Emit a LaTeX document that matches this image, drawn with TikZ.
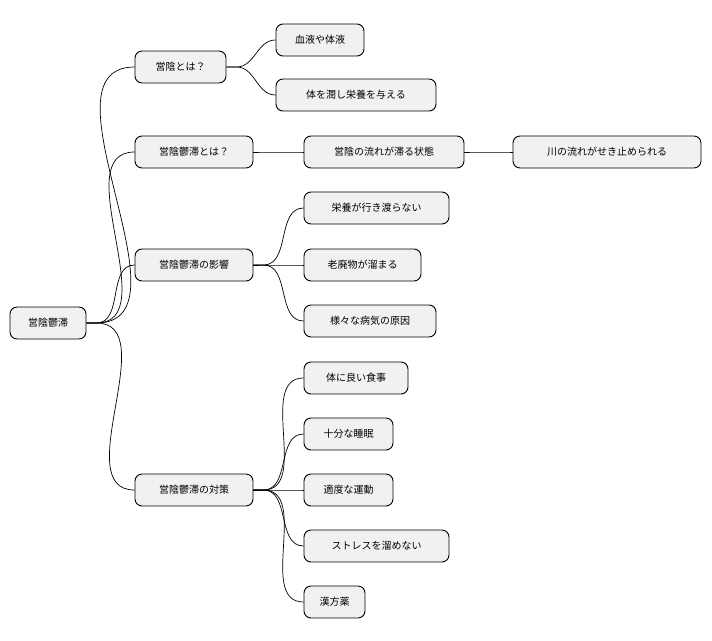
\documentclass[tikz,border=0pt]{standalone}
\usepackage{fontspec}
\setmainfont{Noto Sans CJK JP}
\begin{document}
\begin{tikzpicture}[x=1pt,y=-1pt,
  box/.style={draw=black,line width=0.9pt,fill={rgb,255:red,241;green,241;blue,241},rounded corners=7pt,minimum height=32pt,inner sep=0pt,font=\fontsize{10}{12}\selectfont},
  link/.style={line width=0.7pt}]
\useasboundingbox (0,0) rectangle (712,640);
\newcommand{\bx}[5]{\node[box,minimum width=#3pt-#2pt] (#1) at ({(#2+#3)/2},#4) {#5};}
\bx{r}{10}{86}{323}{営陰鬱滞}
\bx{a}{135}{226}{67}{営陰とは？}
\bx{a1}{276}{364}{40}{血液や体液}
\bx{a2}{276}{436}{95}{体を潤し栄養を与える}
\bx{b}{135}{253}{152}{営陰鬱滞とは？}
\bx{b1}{304}{464}{152}{営陰の流れが滞る状態}
\bx{b2}{513}{701}{152}{川の流れがせき止められる}
\bx{c}{135}{253}{265}{営陰鬱滞の影響}
\bx{c1}{304}{449}{208}{栄養が行き渡らない}
\bx{c2}{304}{421}{265}{老廃物が溜まる}
\bx{c3}{304}{436}{321}{様々な病気の原因}
\bx{d}{135}{253}{490}{営陰鬱滞の対策}
\bx{d1}{304}{408}{378}{体に良い食事}
\bx{d2}{304}{393}{434}{十分な睡眠}
\bx{d3}{304}{393}{490}{適度な運動}
\bx{d4}{304}{449}{546}{ストレスを溜めない}
\bx{d5}{304}{365}{602}{漢方薬}
\foreach \p/\c in {r/a,r/b,r/c,r/d,a/a1,a/a2,b/b1,b1/b2,c/c1,c/c2,c/c3,d/d1,d/d2,d/d3,d/d4,d/d5}
  \draw[link] (\p.east) -- ++(10,0) to[out=0,in=180] (\c.west);
\end{tikzpicture}
\end{document}
